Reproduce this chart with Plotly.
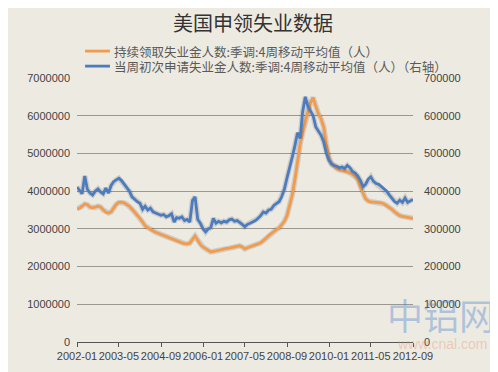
import plotly.graph_objects as go
import pandas as pd

title = "美国申领失业数据"
name_cont = "持续领取失业金人数:季调:4周移动平均值（人）"
name_init = "当周初次申请失业金人数:季调:4周移动平均值（人）（右轴）"

tick_labels = ["2002-01", "2003-05", "2004-09", "2006-01", "2007-05",
               "2008-09", "2010-01", "2011-05", "2012-09"]
left_ticks = [0, 1000000, 2000000, 3000000, 4000000, 5000000, 6000000, 7000000]
right_ticks = [0, 100000, 200000, 300000, 400000, 500000, 600000, 700000]

months = pd.date_range("2002-01-01", "2012-09-01", freq="MS")

# continuing claims, 4-week MA (millions), monthly readings
continuing_m = [
    3.53, 3.55, 3.60, 3.66, 3.64, 3.58, 3.56, 3.57, 3.60, 3.58, 3.50, 3.44,
    3.42, 3.45, 3.55, 3.65, 3.70, 3.71, 3.69, 3.65, 3.60, 3.52, 3.44, 3.37,
    3.28, 3.18, 3.08, 3.03, 2.98, 2.94, 2.91, 2.88, 2.85, 2.82, 2.79, 2.77,
    2.73, 2.70, 2.68, 2.65, 2.63, 2.61, 2.60, 2.62, 2.72, 2.81, 2.70, 2.58,
    2.52, 2.47, 2.42, 2.39, 2.40, 2.42, 2.44, 2.45, 2.46, 2.48, 2.49, 2.50,
    2.52, 2.54, 2.55, 2.52, 2.47, 2.50, 2.52, 2.54, 2.56, 2.60, 2.63, 2.68,
    2.75, 2.82, 2.88, 2.94, 2.98, 3.02, 3.10, 3.20, 3.35, 3.60, 3.90, 4.30,
    4.85, 5.25, 5.55, 5.85, 6.10, 6.35, 6.48, 6.25, 6.05, 5.92, 5.70, 5.25,
    4.88, 4.72, 4.65, 4.60, 4.56, 4.55, 4.53, 4.51, 4.48, 4.45, 4.38, 4.30,
    4.10, 3.95, 3.80, 3.74, 3.71, 3.71, 3.70, 3.69, 3.69, 3.66, 3.62, 3.58,
    3.52, 3.45, 3.39, 3.35, 3.33, 3.31, 3.30, 3.29, 3.28,
]
# initial claims, 4-week MA (thousands), monthly readings
initial_k = [
    411, 400, 393, 440, 405, 395, 390, 400, 406, 398, 393, 408,
    395, 415, 425, 430, 434, 428, 418, 408, 400, 385, 378, 372,
    368, 352, 360, 350, 355, 345, 342, 340, 336, 338, 332, 335,
    340, 318, 330, 328, 332, 322, 325, 318, 375, 385, 325, 315,
    300, 292, 300, 303, 328, 315, 320, 316, 320, 318, 324, 326,
    320, 322, 318, 312, 306, 312, 315, 318, 322, 328, 335, 345,
    342, 350, 352, 362, 368, 372, 385, 405, 435, 460, 490, 520,
    555, 540, 610, 650, 625, 612, 600, 570, 560, 548, 530, 500,
    482, 472, 468, 466, 462, 464, 460, 468, 462, 452, 448, 440,
    428, 412, 418, 432, 438, 426, 420, 418, 412, 405, 400, 390,
    382, 372, 368, 376, 370, 382, 370, 375, 378,
]

continuing = [v * 1e6 for v in continuing_m]
initial = [v * 1e3 for v in initial_k]

orange = "#F39A4B"
blue = "#4C7CC0"
bg = "#EDEAE2"
font_cjk = "Noto Sans CJK SC"
font_num = "Liberation Sans, Arial, sans-serif"
tick_font = dict(family=font_num, size=11, color="#444444")

fig = go.Figure()
# soft shadows
fig.add_trace(go.Scatter(x=months, y=continuing, mode="lines", showlegend=False,
                         line=dict(color="rgba(0,0,0,0.12)", width=5.5), hoverinfo="skip"))
fig.add_trace(go.Scatter(x=months, y=initial, mode="lines", showlegend=False, yaxis="y2",
                         line=dict(color="rgba(0,0,0,0.12)", width=5.5), hoverinfo="skip"))
fig.add_trace(go.Scatter(x=months, y=continuing, mode="lines", name=name_cont,
                         showlegend=False, line=dict(color=orange, width=2.8)))
fig.add_trace(go.Scatter(x=months, y=initial, mode="lines", name=name_init, yaxis="y2",
                         showlegend=False, line=dict(color=blue, width=2.8)))

tick_dates = [pd.Timestamp(t + "-01") for t in tick_labels]

# manual legend (paper coordinates)
legend_rows = [(name_cont, orange, 1.102), (name_init, blue, 1.045)]
shapes = []
annotations = []
for name, color, yy in legend_rows:
    shapes.append(dict(type="line", xref="paper", yref="paper",
                       x0=0.024, x1=0.098, y0=yy, y1=yy,
                       line=dict(color=color, width=2.8)))
    annotations.append(dict(text=name, x=0.105, y=yy, xref="paper", yref="paper",
                            xanchor="left", yanchor="middle", showarrow=False,
                            font=dict(family=font_cjk, size=12.5, color="#5a5a5a")))

annotations += [
    dict(text="中铝网", x=1.25, y=0.0, xref="paper", yref="paper",
         xanchor="right", yanchor="bottom", showarrow=False,
         font=dict(family=font_cjk, size=36, color="rgba(70,130,205,0.38)")),
    dict(text="www.cnal.com", x=1.225, y=-0.045, xref="paper", yref="paper",
         xanchor="right", yanchor="bottom", showarrow=False,
         font=dict(family=font_num, size=14, color="rgba(230,150,110,0.4)")),
]

# page body has an 8px default margin, so the figure is drawn 8px smaller
fig.update_layout(
    width=490, height=364,
    paper_bgcolor=bg, plot_bgcolor=bg,
    margin=dict(l=69, r=85, t=70, b=30, autoexpand=False),
    showlegend=False,
    title=dict(text=title, x=0.5, xanchor="center", y=0.955, yanchor="middle",
               font=dict(family=font_cjk, size=20, color="#333333")),
    shapes=shapes,
    annotations=annotations,
    xaxis=dict(range=[tick_dates[0], tick_dates[-1]], tickvals=tick_dates,
               ticktext=tick_labels, tickangle=0, showgrid=False, showline=True,
               linecolor="#555555", linewidth=1, ticks="outside", ticklen=4,
               tickcolor="#555555", zeroline=False, tickfont=tick_font),
    yaxis=dict(range=[0, 7000000], tickvals=left_ticks, tickformat="d",
               showgrid=True, gridcolor="#9c9890", gridwidth=1, zeroline=False,
               ticks="", ticklabelstandoff=6, tickfont=tick_font),
    yaxis2=dict(range=[0, 700000], tickvals=right_ticks, tickformat="d",
                overlaying="y", side="right", showgrid=False, zeroline=False,
                ticks="", ticklabelstandoff=10, tickfont=tick_font),
)

fig.write_html("out.html")
